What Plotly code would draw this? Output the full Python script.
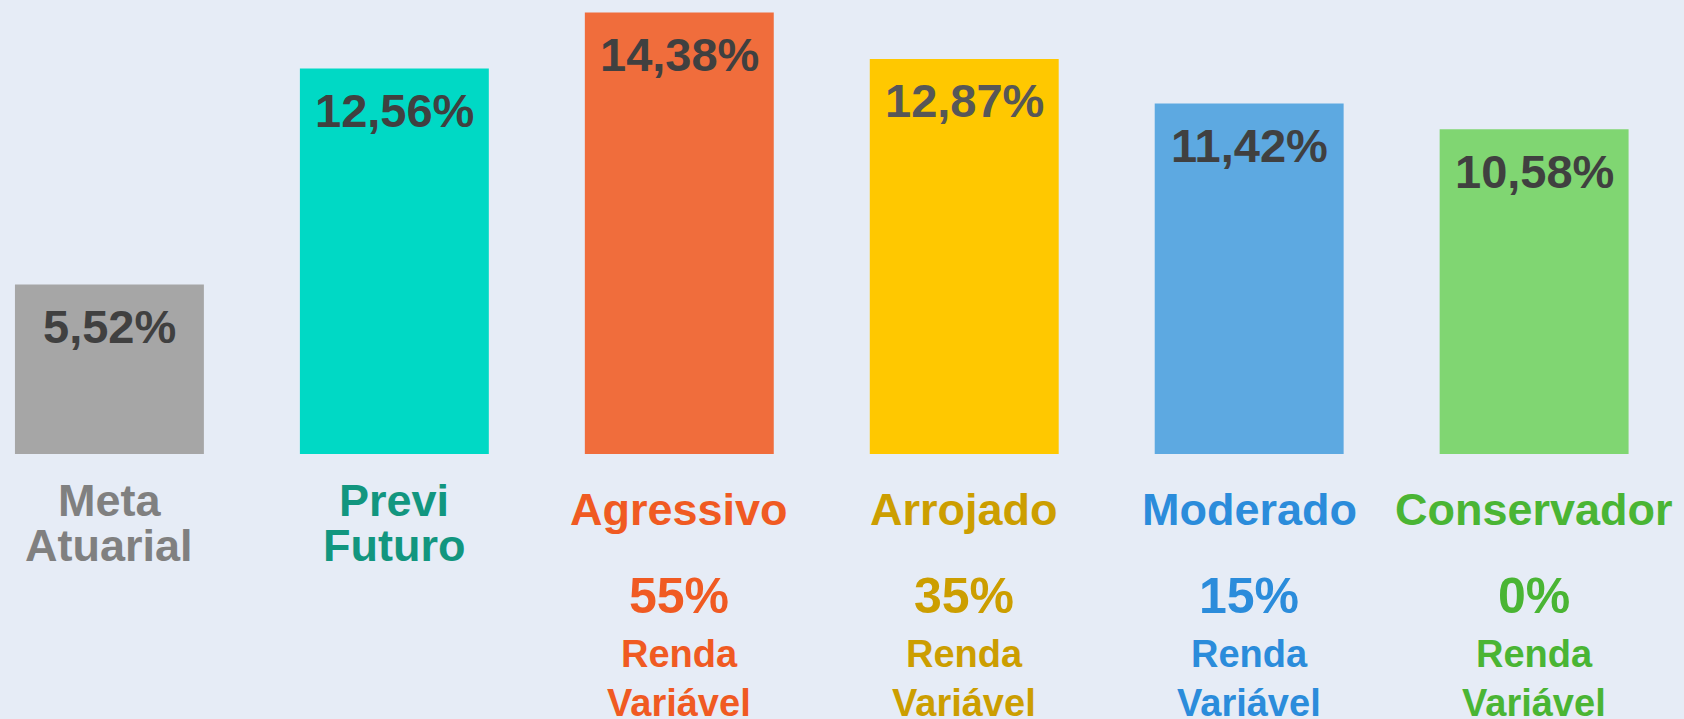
import plotly.graph_objects as go

# ---- data ----
categories = ["Meta Atuarial", "Previ Futuro", "Agressivo", "Arrojado", "Moderado", "Conservador"]
name_lines = [["Meta", "Atuarial"], ["Previ", "Futuro"], ["Agressivo"], ["Arrojado"], ["Moderado"], ["Conservador"]]
returns = [5.52, 12.56, 14.38, 12.87, 11.42, 10.58]
return_labels = ["5,52%", "12,56%", "14,38%", "12,87%", "11,42%", "10,58%"]
rv_share = [None, None, "55%", "35%", "15%", "0%"]

# ---- styles ----
bar_colors = ["#A6A6A6", "#00D9C5", "#F06D3C", "#FFC800", "#5DA9E1", "#80D672"]
text_colors = ["#808080", "#12967F", "#F05A22", "#CC9E00", "#2B8CDB", "#4AB534"]
value_colors = ["#404040", "#404040", "#404040", "#575757", "#404040", "#404040"]
FONT = "Liberation Sans, Arial, sans-serif"
W, H = 1684, 719

fig = go.Figure(go.Bar(
    x=categories, y=returns,
    marker=dict(color=bar_colors, line=dict(width=0)),
    hoverinfo="skip",
))


def ypaper(px):
    return 1 - px / H


annotations = []
for i, cat in enumerate(categories):
    # value label inside bar top
    annotations.append(dict(
        x=cat, y=returns[i], xref="x", yref="y", yanchor="middle", yshift=-42,
        text=f"<b>{return_labels[i]}</b>", showarrow=False,
        font=dict(family=FONT, size=47, color=value_colors[i]),
    ))
    # category name
    lines = name_lines[i]
    centers = [500, 545] if len(lines) == 2 else [509]
    for ln, cy in zip(lines, centers):
        annotations.append(dict(
            x=cat, y=ypaper(cy), xref="x", yref="paper", yanchor="middle",
            text=f"<b>{ln}</b>", showarrow=False,
            font=dict(family=FONT, size=45, color=text_colors[i]),
        ))
    if rv_share[i] is not None:
        annotations.append(dict(
            x=cat, y=ypaper(596), xref="x", yref="paper", yanchor="middle",
            text=f"<b>{rv_share[i]}</b>", showarrow=False,
            font=dict(family=FONT, size=50, color=text_colors[i]),
        ))
        for ln, cy in zip(["Renda", "Variável"], [654, 703]):
            annotations.append(dict(
                x=cat, y=ypaper(cy), xref="x", yref="paper", yanchor="middle",
                text=f"<b>{ln}</b>", showarrow=False,
                font=dict(family=FONT, size=38, color=text_colors[i]),
            ))

fig.update_layout(
    width=W, height=H,
    margin=dict(l=0, r=0, t=0, b=0),
    paper_bgcolor="#E6ECF6",
    plot_bgcolor="rgba(0,0,0,0)",
    showlegend=False,
    bargap=0.337,
    xaxis=dict(type="category", range=[-0.384, 5.526], visible=False, fixedrange=True),
    yaxis=dict(range=[-8.63, 14.79], visible=False, fixedrange=True),
    annotations=annotations,
)

fig.write_html(
    "out.html",
    config={"displayModeBar": False},
    post_script="document.body.style.margin='0';document.body.style.overflow='hidden';",
)
